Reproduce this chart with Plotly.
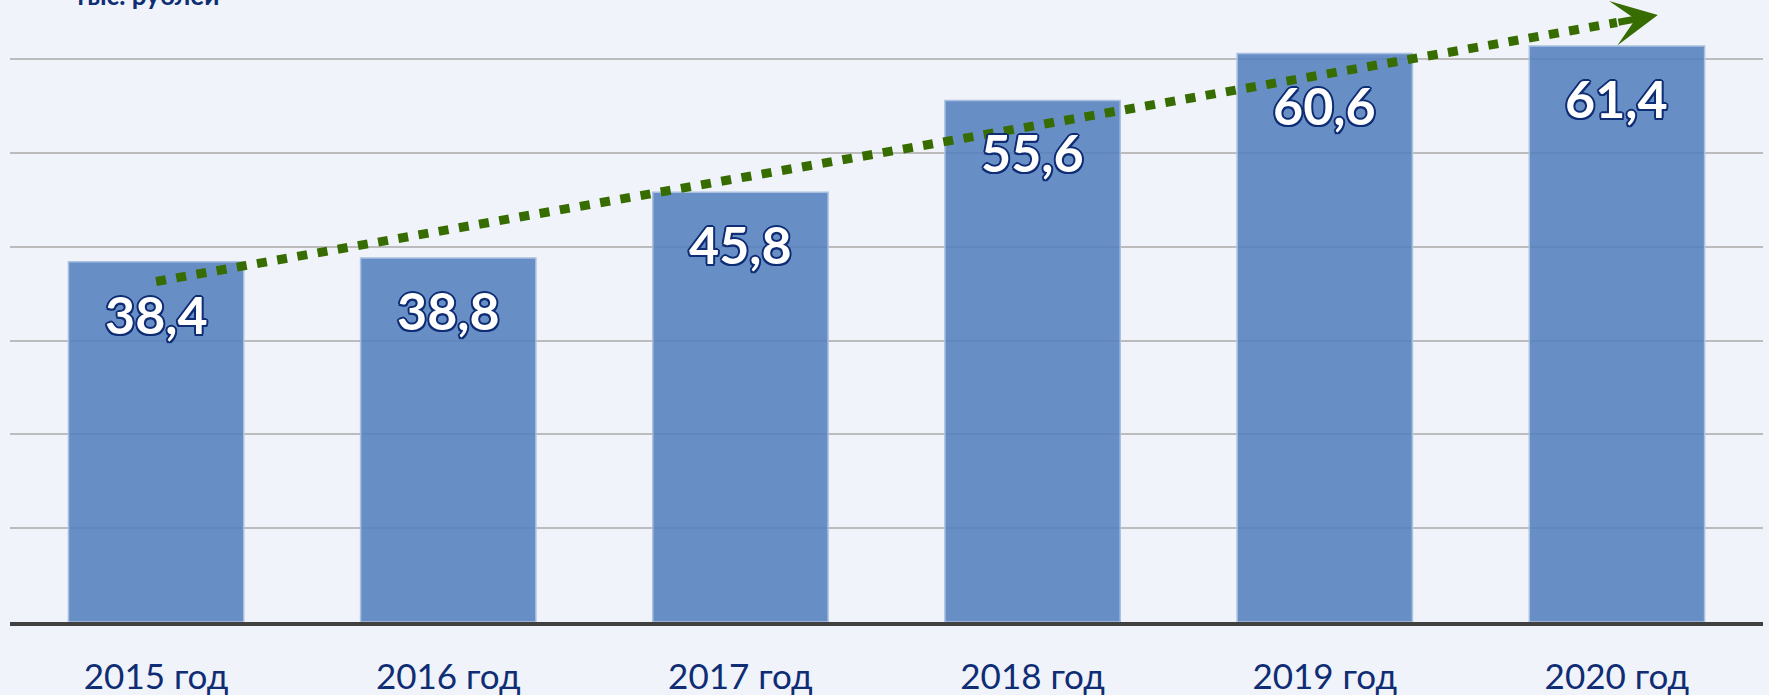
import plotly.graph_objects as go

# ---- data ----
categories = ["2015 год", "2016 год", "2017 год", "2018 год", "2019 год", "2020 год"]
values = [38.4, 38.8, 45.8, 55.6, 60.6, 61.4]
value_labels = ["38,4", "38,8", "45,8", "55,6", "60,6", "61,4"]
unit_label = "тыс. рублей"
# trend arrow (in axis units: category index, value)
trend_x = [0.0, 5.0]
trend_y = [36.3, 63.9]
trend_tip = (5.14, 64.7)

x_idx = list(range(len(categories)))

BG = "#f0f3f9"
NAVY = "#0f2d74"
GREEN = "#376c00"
FONT = "Lato, Noto Sans, sans-serif"

fig = go.Figure()

fig.add_trace(go.Bar(
    x=x_idx, y=values,
    marker=dict(color="rgba(84,128,190,0.88)",
                line=dict(color="#a9c0e0", width=1.5)),
    width=0.6,
    hoverinfo="skip",
))

fig.add_trace(go.Scatter(
    x=trend_x, y=trend_y, mode="lines",
    line=dict(color=GREEN, width=9, dash="10px,10.5px"),
    hoverinfo="skip",
))

outline = ", ".join(f"{dx}px {dy}px 0 {NAVY}" for dx, dy in
                    [(-2, 0), (2, 0), (0, -2), (0, 2), (-1.5, -1.5), (1.5, -1.5), (-1.5, 1.5), (1.5, 1.5)])

annotations = []
for xi, v, lab in zip(x_idx, values, value_labels):
    annotations.append(dict(
        x=xi, y=v, xref="x", yref="y", text=lab, showarrow=False,
        yanchor="top", yshift=-19,
        font=dict(family=FONT, size=52, color="white", weight="bold", shadow=outline),
    ))

# arrow head
annotations.append(dict(
    x=trend_tip[0], y=trend_tip[1], ax=trend_x[1], ay=trend_y[1],
    xref="x", yref="y", axref="x", ayref="y", text="",
    showarrow=True, arrowhead=3, arrowsize=1.08, arrowwidth=7, arrowcolor=GREEN,
))

# partially visible unit label at the top
annotations.append(dict(
    x=0.0354, y=1, xref="paper", yref="paper", xanchor="left", yanchor="bottom",
    yshift=-13, text=unit_label, showarrow=False,
    font=dict(family=FONT, size=26, color=NAVY, weight="bold"),
))

fig.update_layout(
    width=1769, height=695,
    margin=dict(l=10, r=6, t=0, b=73),
    paper_bgcolor=BG, plot_bgcolor=BG,
    showlegend=False,
    bargap=0.4,
    annotations=annotations,
    xaxis=dict(
        range=[-0.5, 5.5], tickvals=x_idx, ticktext=categories,
        showgrid=False, zeroline=False,
        showline=True, linecolor="#404040", linewidth=4,
        ticks="", ticklabelstandoff=21,
        tickfont=dict(family=FONT, size=35, color=NAVY),
    ),
    yaxis=dict(
        range=[0, 66.3], dtick=10, showgrid=True, gridcolor="#bcbcbc", gridwidth=1.5,
        zeroline=False, showticklabels=False, ticks="",
    ),
)

fig.write_html("out.html", config={"displayModeBar": False},
               post_script="document.body.style.margin='0';document.body.style.overflow='hidden';")
